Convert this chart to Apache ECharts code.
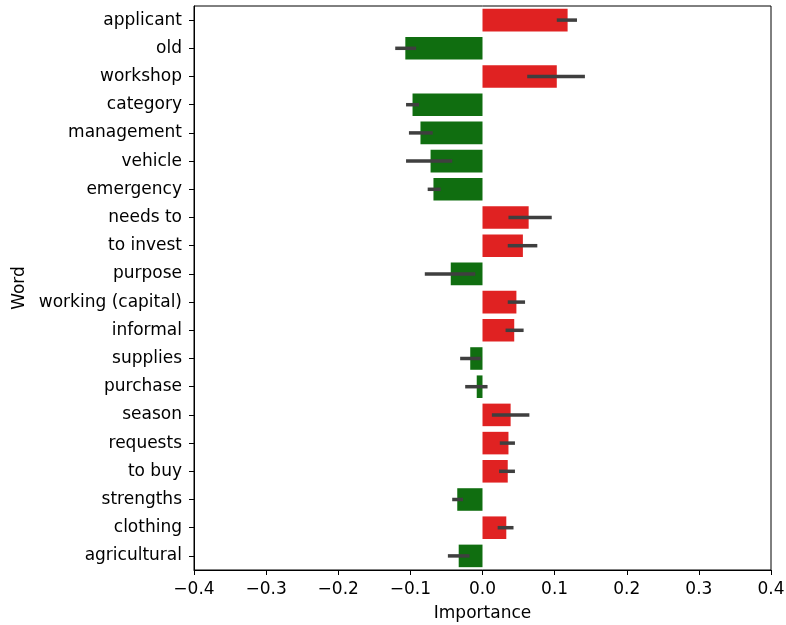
<!DOCTYPE html>
<html><head><meta charset="utf-8">
<script src="https://cdn.jsdelivr.net/npm/echarts@6/dist/echarts.min.js"></script>
<style>html,body{margin:0;padding:0;background:#fff}#c{width:786px;height:625px}</style>
</head><body><div id="c"></div>
<script>
var words = ["applicant","old","workshop","category","management","vehicle","emergency","needs to","to invest","purpose","working (capital)","informal","supplies","purchase","season","requests","to buy","strengths","clothing","agricultural"];
var importance = [0.118,-0.107,0.103,-0.097,-0.086,-0.072,-0.068,0.064,0.056,-0.044,0.047,0.044,-0.017,-0.008,0.039,0.036,0.035,-0.035,0.033,-0.033];
var errLow = [0.103,-0.121,0.062,-0.106,-0.102,-0.106,-0.076,0.036,0.035,-0.080,0.035,0.032,-0.031,-0.024,0.013,0.024,0.023,-0.042,0.021,-0.048];
var errHigh = [0.131,-0.092,0.142,-0.088,-0.069,-0.042,-0.058,0.096,0.076,-0.010,0.059,0.057,-0.002,0.007,0.065,0.045,0.045,-0.027,0.043,-0.018];
var xTicks = [-0.4,-0.3,-0.2,-0.1,0.0,0.1,0.2,0.3,0.4];

var font = "DejaVu Sans";
var fs = 17;
var chart = echarts.init(document.getElementById('c'), null, {renderer:'canvas'});
chart.setOption({
  animation:false,
  grid:{left:194,right:15,top:6,bottom:55,containLabel:false,outerBoundsMode:'none',show:true,borderColor:'#000',borderWidth:1,backgroundColor:'transparent'},
  xAxis:{type:'value',min:xTicks[0],max:xTicks[xTicks.length-1],interval:0.1,
    name:'Importance',nameLocation:'middle',nameGap:35,
    nameTextStyle:{fontFamily:font,fontSize:fs,color:'#000'},
    axisLine:{show:true,onZero:false,lineStyle:{color:'#000',width:1}},
    axisTick:{show:true,length:5,lineStyle:{color:'#000'}},
    splitLine:{show:false},
    axisLabel:{fontFamily:font,fontSize:fs,color:'#000',margin:11,hideOverlap:false,
      formatter:function(v){var s=(Math.round(v*10)/10).toFixed(1);return s.replace('-','\u2212');}}
  },
  yAxis:{type:'category',data:words,inverse:true,
    name:'Word',nameLocation:'middle',nameGap:166,nameRotate:90,
    nameTextStyle:{fontFamily:font,fontSize:fs,color:'#000'},
    axisLine:{show:true,onZero:false,lineStyle:{color:'#000',width:1}},
    axisTick:{show:true,alignWithLabel:true,length:5,lineStyle:{color:'#000'}},
    axisLabel:{fontFamily:font,fontSize:fs,color:'#000',margin:12,interval:0}
  },
  series:[
    {type:'bar',barCategoryGap:'20%',
     data:importance.map(function(v){return {value:v,itemStyle:{color:v>=0?'#e02222':'#106e10'}};})},
    {type:'custom',
     data:words.map(function(w,i){return [i,errLow[i],errHigh[i]];}),
     encode:{x:[1,2],y:0},
     renderItem:function(params,api){
       var i=api.value(0);
       var p1=api.coord([api.value(1),i]);
       var p2=api.coord([api.value(2),i]);
       return {type:'line',shape:{x1:p1[0],y1:p1[1],x2:p2[0],y2:p2[1]},
         style:{stroke:'#3f3f3f',lineWidth:3.5}};
     },z:5}
  ]
});
</script></body></html>
